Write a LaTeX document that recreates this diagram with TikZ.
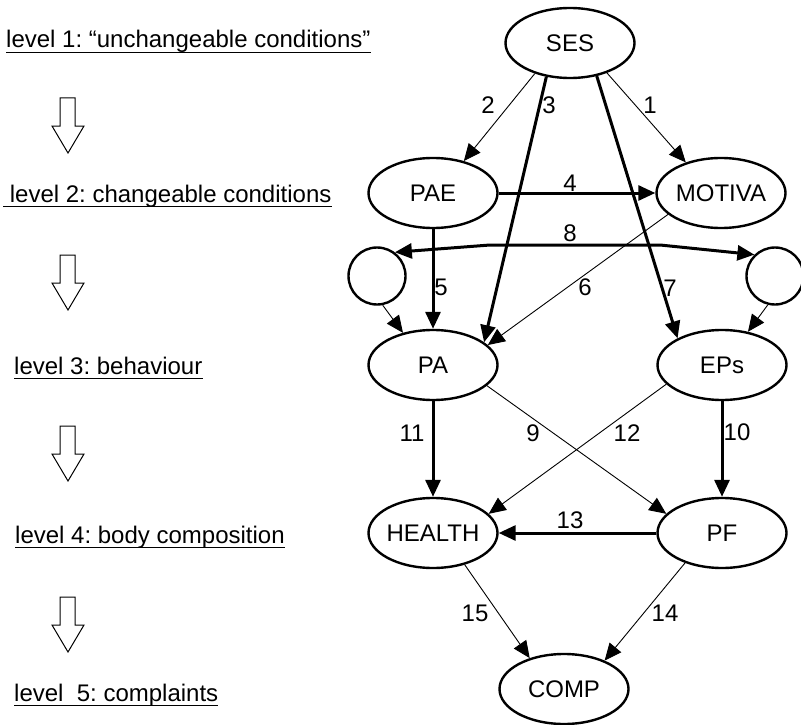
\documentclass[tikz,border=0pt]{standalone}
\usepackage{fontspec}
\setmainfont{Liberation Sans}
\usetikzlibrary{shapes.geometric,arrows.meta}
\frenchspacing
\begin{document}
\begin{tikzpicture}[x=1pt,y=-1pt,
  every node/.style={font=\fontsize{24}{28}\selectfont},
  ell/.style={ellipse, draw, line width=2.4pt, minimum width=129pt, minimum height=70pt, inner sep=0pt},
  circ/.style={circle, draw, line width=2.4pt, minimum size=57pt, inner sep=0pt},
  tipA/.tip={Triangle[length=17pt,width=15pt]},
  thinarr/.style={line width=0.9pt, -tipA},
  thickarr/.style={line width=3pt, -tipA},
  num/.style={inner sep=0pt},
  lvl/.style={anchor=base west, inner sep=0pt},
  uline/.style={line width=1.6pt},
  hollow/.style={line width=1pt},
  downarrow/.pic={\draw[hollow] (-8,0) -- (7,0) -- (7,28) -- (16,28) -- (0,55) -- (-16,28) -- (-8,28) -- cycle;}
]
\useasboundingbox[fill=white] (0,0) rectangle (801,725);

% left column
\node[lvl] (l1) at (6,48) {level 1: “unchangeable conditions”};
\node[lvl] (l2) at (3,202) {\ level 2: changeable conditions};
\node[lvl] (l3) at (14,374) {level 3: behaviour};
\node[lvl] (l4) at (15,543) {level 4: body composition};
\node[lvl] (l5) at (14,701) {level\ \ 5: complaints\ };
\foreach \n in {l1,l2,l3,l4,l5}
  \draw[uline] ([yshift=-4.5pt]\n.base west) -- ([yshift=-4.5pt]\n.base east);
\pic at (68,98) {downarrow};
\pic at (68,255) {downarrow};
\pic at (68,426) {downarrow};
\pic at (68,597) {downarrow};

% nodes
\node[ell] (SES) at (570,43) {\makebox[0pt]{SES}};
\node[ell] (PAE) at (433,193) {\makebox[0pt]{PAE}};
\node[ell] (MOTIVA) at (721,193) {\makebox[0pt]{MOTIVA}};
\node[circ] (LC) at (377,276) {};
\node[circ] (RC) at (775,276) {};
\node[ell] (PA) at (433,365) {\makebox[0pt]{PA}};
\node[ell] (EPs) at (722,365) {\makebox[0pt]{EPs}};
\node[ell] (HEALTH) at (433,533) {\makebox[0pt]{HEALTH}};
\node[ell] (PF) at (722,533) {\makebox[0pt]{PF}};
\node[ell] (COMP) at (564,689) {\makebox[0pt]{COMP}};

\coordinate (b8l) at (490,245);
\coordinate (b8r) at (660,245);

% connectors
\draw[thinarr] (SES.-39) -- (MOTIVA.139);
\draw[thinarr] (SES.-139) -- (PAE.46);
\draw[thickarr] (SES.-125) -- (PA.24);
\draw[thickarr] (SES.-51) -- (EPs.149);
\draw[thickarr] (PAE.east) -- (MOTIVA.west);
\draw[thickarr] (PAE.south) -- (PA.north);
\draw[thinarr] (MOTIVA.-158) -- (PA.20);
\draw[line width=3pt, tipA-tipA] (LC.53) -- (b8l) -- (b8r) -- (RC.134);
\draw[thinarr] (LC.-79) -- (PA.133);
\draw[thinarr] (RC.-104) -- (EPs.52);
\draw[thickarr] (PA.south) -- (HEALTH.north);
\draw[thickarr] (EPs.south) -- (PF.north);
\draw[thinarr] (PA.-21) -- (PF.161);
\draw[thinarr] (EPs.-161) -- (HEALTH.19);
\draw[thickarr] (PF.west) -- (HEALTH.east);
\draw[thinarr] (HEALTH.-45) -- (COMP.138);
\draw[thinarr] (PF.-141) -- (COMP.35);

% labels
\node[num] at (650,105) {1};
\node[num] at (488,105) {2};
\node[num] at (549,105) {3};
\node[num] at (570,183) {4};
\node[num] at (441,287) {5};
\node[num] at (585,287) {6};
\node[num] at (670,288) {7};
\node[num] at (570,233) {8};
\node[num] at (533,433) {9};
\node[num] at (737,432) {10};
\node[num] at (412,433) {11};
\node[num] at (627,433) {12};
\node[num] at (570,520) {13};
\node[num] at (665,613) {14};
\node[num] at (475,613) {15};
\end{tikzpicture}
\end{document}
